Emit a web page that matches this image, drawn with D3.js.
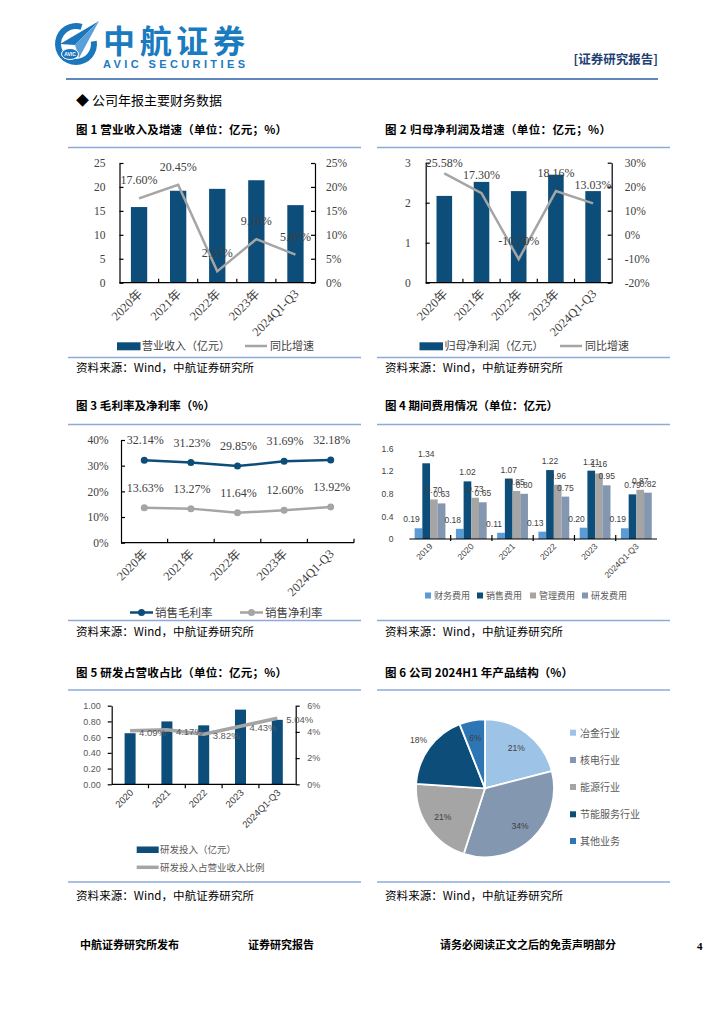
<!DOCTYPE html>
<html><head><meta charset="utf-8">
<script src="https://cdn.jsdelivr.net/npm/d3@7"></script>
<style>body{margin:0;background:#fff} svg{display:block}</style>
</head><body><svg id="c" width="724" height="1024"></svg>
<script>
// ---------------- DATA ----------------
const years5 = ["2020年", "2021年", "2022年", "2023年", "2024Q1-Q3"];
const revenue = [15.8, 19.2, 19.6, 21.4, 16.2];
const revenueGrowth = [17.60, 20.45, 2.37, 9.10, 5.87];
const netProfit = [2.17, 2.52, 2.29, 2.70, 2.29];
const profitGrowth = [25.58, 17.30, -10.20, 18.16, 13.03];
const grossMargin = [32.14, 31.23, 29.85, 31.69, 32.18];
const netMargin = [13.63, 13.27, 11.64, 12.60, 13.92];
const expenseYears = ["2019", "2020", "2021", "2022", "2023", "2024Q1-Q3"];
const expenseNames = ["财务费用", "销售费用", "管理费用", "研发费用"];
const financeExp = [0.19, 0.18, 0.11, 0.13, 0.20, 0.19];
const salesExp = [1.34, 1.02, 1.07, 1.22, 1.21, 0.79];
const adminExp = [0.70, 0.73, 0.85, 0.96, 1.16, 0.87];
const rdExp = [0.63, 0.65, 0.80, 0.75, 0.95, 0.82];
const rdYears = ["2020", "2021", "2022", "2023", "2024Q1-Q3"];
const rdInvest = [0.65, 0.80, 0.75, 0.95, 0.82];
const rdRatio = [4.09, 4.17, 3.82, 4.43, 5.04];
const productNames = ["冶金行业", "核电行业", "能源行业", "节能服务行业", "其他业务"];
const productShares = [21, 34, 21, 18, 6];
const revTicks = [0, 5, 10, 15, 20, 25];
const revPctTicks = [0, 5, 10, 15, 20, 25];
const profitTicks = [0, 1, 2, 3];
const profitPctTicks = [-20, -10, 0, 10, 20, 30];
const marginTicks = [0, 10, 20, 30, 40];
const expTicks = [0, 0.4, 0.8, 1.2, 1.6];
const rdTicks = [0, 0.2, 0.4, 0.6, 0.8, 1.0];
const rdPctTicks = [0, 2, 4, 6];

// ---------------- STYLE ----------------
const CJK = '"Noto Sans CJK SC", sans-serif';
const SERIF = '"Liberation Serif", "Noto Sans CJK SC", serif';
const SANS = '"Liberation Sans", "Noto Sans CJK SC", sans-serif';
const DARK = "#0d4d79", GRAY = "#a5a5a5", RULE = "#8eaadb", TXT = "#404040";
const expColors = ["#5b9bd5", "#0d4d79", "#a5a5a5", "#8497b0"];
const pieColors = ["#9dc3e6", "#8497b0", "#a5a5a5", "#0d4d79", "#2e75b6"];

const svg = d3.select("#c");
function addText(x, y, s, o = {}) {
  const t = svg.append("text").attr("x", x).attr("y", y).text(s)
    .attr("font-family", o.font || CJK).attr("font-size", o.size || 12)
    .attr("fill", o.fill || "#000").attr("text-anchor", o.anchor || "start");
  if (o.bold) t.attr("font-weight", "bold");
  if (o.len) t.attr("textLength", o.len).attr("lengthAdjust", "spacing");
  return t;
}
function rule(x1, x2, y) {
  svg.append("line").attr("x1", x1).attr("x2", x2).attr("y1", y).attr("y2", y)
    .attr("stroke", RULE).attr("stroke-width", 1.5);
}
function styleAxis(g, font, size, color, stroke) {
  g.select(".domain").attr("stroke", stroke || "#000").attr("stroke-width", 1.2);
  g.selectAll(".tick line").attr("stroke", stroke || "#000").attr("stroke-width", 1.2);
  g.selectAll(".tick text").attr("font-family", font).attr("font-size", size).attr("fill", color);
}

// ---------------- HEADER ----------------
const LB = "#1b76bc";
const logo = svg.append("g");
logo.append("path").attr("transform", "translate(76,44)")
  .attr("d", d3.arc().innerRadius(15).outerRadius(21).startAngle(Math.PI * 0.45).endAngle(Math.PI * 2.1)())
  .attr("fill", LB);
logo.append("path").attr("d", "M99,21 L60,44 L75,45 Z").attr("fill", LB);
logo.append("path").attr("d", "M99,21 L75,45 L79,58 Z").attr("fill", "#5aa0d8");
logo.append("ellipse").attr("cx", 70).attr("cy", 54).attr("rx", 8.5).attr("ry", 5.5).attr("fill", LB).attr("stroke", "#fff").attr("stroke-width", 1);
logo.append("text").attr("x", 70).attr("y", 56).attr("text-anchor", "middle").attr("font-size", 5)
  .attr("font-family", SANS).attr("font-weight", "bold").attr("fill", "#fff").text("AVIC");
addText(103, 53, "中航证券", { size: 32, bold: true, fill: "#1a7bc1", len: 142 });
addText(103, 68, "AVIC SECURITIES", { size: 11, bold: true, fill: "#1a7bc1", font: SANS, len: 142 });
addText(658, 64, "[证券研究报告]", { size: 12.5, bold: true, fill: "#1f3f73", anchor: "end" });
svg.append("line").attr("x1", 66).attr("x2", 658).attr("y1", 79).attr("y2", 79).attr("stroke", "#2e5fa6").attr("stroke-width", 1.5);
addText(76, 105, "◆ 公司年报主要财务数据", { size: 13 });

// ---------------- FRAMES ----------------
const titles = [
  [76, 134, "图 1  营业收入及增速（单位：亿元；%）", 211],
  [385, 134, "图 2  归母净利润及增速（单位：亿元；%）", 226],
  [76, 410, "图 3  毛利率及净利率（%）", 139],
  [385, 410, "图 4  期间费用情况（单位：亿元）", 173],
  [76, 677, "图 5  研发占营收占比（单位：亿元；%）", 211],
  [385, 677, "图 6  公司 2024H1 年产品结构（%）", 188]
];
titles.forEach(t => addText(t[0], t[1], t[2], { size: 11.5, bold: true, len: t[3] }));
[[68, 361, 147.5, 357.5, 372], [377, 670, 147.5, 357.5, 372],
 [68, 361, 424.5, 620.5, 636], [377, 670, 424.5, 620.5, 636],
 [68, 361, 690, 882, 900], [377, 670, 690, 882, 900]].forEach((f, i) => {
  rule(f[0], f[1], f[2]); rule(f[0], f[1], f[3]);
  addText(i % 2 ? 385 : 76, f[4], "资料来源：Wind，中航证券研究所", { size: 11.5, len: 178 });
});

// ---------------- COMBO BAR+LINE (charts 1,2) ----------------
function combo(o) {
  const x = d3.scaleBand().domain(o.cats).range([o.x0, o.x1]);
  const bw = x.bandwidth();
  const yl = d3.scaleLinear().domain(o.lDom).range([o.yB, o.yT]);
  const yr = d3.scaleLinear().domain(o.rDom).range([o.yB, o.yT]);
  const g = svg.append("g");
  g.selectAll("rect.bar").data(o.bars).join("rect").attr("class", "bar")
    .attr("x", (d, i) => x(o.cats[i]) + bw / 2 - o.barW / 2).attr("width", o.barW)
    .attr("y", d => yl(d)).attr("height", d => yl(o.lDom[0]) - yl(d)).attr("fill", DARK);
  const la = g.append("g").attr("transform", `translate(${o.x0},0)`)
    .call(d3.axisLeft(yl).tickValues(o.lTicks).tickSizeInner(-4).tickSizeOuter(0).tickPadding(o.lPad).tickFormat(d3.format("d")));
  styleAxis(la, SERIF, 11.5, TXT);
  const ra = g.append("g").attr("transform", `translate(${o.x1},0)`)
    .call(d3.axisRight(yr).tickValues(o.rTicks).tickSizeInner(-4).tickSizeOuter(0).tickPadding(o.rPad).tickFormat(d => d + "%"));
  styleAxis(ra, SERIF, 11.5, TXT);
  // bottom axis
  g.append("line").attr("x1", o.x0).attr("x2", o.x1).attr("y1", o.yB).attr("y2", o.yB).attr("stroke", "#000").attr("stroke-width", 1.2);
  g.selectAll("line.bt").data(o.cats.slice(1)).join("line").attr("class", "bt")
    .attr("x1", d => x(d)).attr("x2", d => x(d)).attr("y1", o.yB).attr("y2", o.yB - 4).attr("stroke", "#000").attr("stroke-width", 1.2);
  g.selectAll("text.xl").data(o.cats).join("text").attr("class", "xl")
    .attr("transform", d => `translate(${x(d) + bw / 2 + 4},${o.yB + 12}) rotate(-45)`)
    .attr("text-anchor", "end").attr("font-family", SERIF).attr("font-size", 12.5).attr("fill", TXT).text(d => d);
  // line
  const cx = i => x(o.cats[i]) + bw / 2;
  g.append("path").datum(o.line).attr("fill", "none").attr("stroke", GRAY).attr("stroke-width", 2.5)
    .attr("d", d3.line().x((d, i) => cx(i)).y(d => yr(d)));
  g.selectAll("text.dl").data(o.line).join("text").attr("class", "dl")
    .attr("x", (d, i) => cx(i)).attr("y", d => Math.max(yr(d) - 14, o.yT + 4))
    .attr("text-anchor", "middle").attr("font-family", SERIF).attr("font-size", 12).attr("fill", TXT)
    .text(d => d.toFixed(2) + "%");
  // legend
  g.append("rect").attr("x", o.legX).attr("y", 342.3).attr("width", 23.5).attr("height", 8).attr("fill", DARK);
  addText(o.legX + 25, 350, o.barName, { size: 11, fill: TXT });
  g.append("line").attr("x1", o.legLX).attr("x2", o.legLX + 22).attr("y1", 346).attr("y2", 346).attr("stroke", GRAY).attr("stroke-width", 2.5);
  addText(o.legLX + 25, 350, "同比增速", { size: 11, fill: TXT });
}
combo({ cats: years5, bars: revenue, line: revenueGrowth, x0: 119.5, x1: 315, yT: 163, yB: 282.7,
  lDom: [0, 25], rDom: [0, 25], lTicks: revTicks, rTicks: revPctTicks, lPad: 14, rPad: 11, barW: 16.3,
  legX: 117, legLX: 245, barName: "营业收入（亿元）" });
combo({ cats: years5, bars: netProfit, line: profitGrowth, x0: 425.7, x1: 611.7, yT: 162.7, yB: 282.7,
  lDom: [0, 3], rDom: [-20, 30], lTicks: profitTicks, rTicks: profitPctTicks, lPad: 15, rPad: 13, barW: 15.6,
  legX: 419.5, legLX: 560, barName: "归母净利润（亿元）" });

// ---------------- CHART 3 ----------------
(function () {
  const x = d3.scaleBand().domain(years5).range([121, 354]);
  const bw = x.bandwidth();
  const y = d3.scaleLinear().domain([0, 40]).range([542.7, 440]);
  const g = svg.append("g");
  const la = g.append("g").attr("transform", "translate(121,0)")
    .call(d3.axisLeft(y).tickValues(marginTicks).tickSizeInner(-4).tickSizeOuter(0).tickPadding(12.5).tickFormat(d => d + "%"));
  styleAxis(la, SERIF, 11.5, TXT);
  g.append("line").attr("x1", 121).attr("x2", 354).attr("y1", 542.7).attr("y2", 542.7).attr("stroke", "#000").attr("stroke-width", 1.2);
  g.selectAll("line.bt").data(years5.slice(1).concat(["end"])).join("line").attr("class", "bt")
    .attr("x1", d => d === "end" ? 354 : x(d)).attr("x2", d => d === "end" ? 354 : x(d))
    .attr("y1", 542.7).attr("y2", 538.7).attr("stroke", "#000").attr("stroke-width", 1.2);
  g.selectAll("text.xl").data(years5).join("text").attr("class", "xl")
    .attr("transform", d => `translate(${x(d) + bw / 2 + 4},${542.7 + 12}) rotate(-45)`)
    .attr("text-anchor", "end").attr("font-family", SERIF).attr("font-size", 12.5).attr("fill", TXT).text(d => d);
  const cx = i => x(years5[i]) + bw / 2;
  [[grossMargin, DARK], [netMargin, GRAY]].forEach(([vals, col]) => {
    g.append("path").datum(vals).attr("fill", "none").attr("stroke", col).attr("stroke-width", 2.5)
      .attr("d", d3.line().x((d, i) => cx(i)).y(d => y(d)));
    g.selectAll(null).data(vals).join("circle").attr("cx", (d, i) => cx(i)).attr("cy", d => y(d)).attr("r", 3.5).attr("fill", col);
    g.selectAll(null).data(vals).join("text").attr("x", (d, i) => cx(i) + 1).attr("y", d => y(d) - 16)
      .attr("text-anchor", "middle").attr("font-family", SERIF).attr("font-size", 12).attr("fill", TXT)
      .text(d => d.toFixed(2) + "%");
  });
  // legend
  [[130, DARK, "销售毛利率"], [240, GRAY, "销售净利率"]].forEach(([lx, col, name]) => {
    g.append("line").attr("x1", lx).attr("x2", lx + 23).attr("y1", 612.5).attr("y2", 612.5).attr("stroke", col).attr("stroke-width", 2.5);
    g.append("circle").attr("cx", lx + 11.5).attr("cy", 612.5).attr("r", 3.5).attr("fill", col);
    addText(lx + 25, 616.5, name, { size: 11.5, fill: TXT });
  });
})();

// ---------------- CHART 4 ----------------
(function () {
  const series = [financeExp, salesExp, adminExp, rdExp];
  const x0 = d3.scaleBand().domain(expenseYears).range([409.4, 657]);
  const x1 = d3.scaleBand().domain(expenseNames).range([0, 30.8]);
  const off = (x0.bandwidth() - 30.8) / 2;
  const y = d3.scaleLinear().domain([0, 1.6]).range([539, 448.6]);
  const g = svg.append("g");
  const la = g.append("g").attr("transform", "translate(409.4,0)")
    .call(d3.axisLeft(y).tickValues(expTicks).tickSize(0).tickPadding(16).tickFormat(d => d === 0 ? "0" : d.toFixed(1)));
  la.select(".domain").remove();
  la.selectAll(".tick text").attr("font-family", SANS).attr("font-size", 8.5).attr("fill", TXT);
  expenseNames.forEach((name, s) => {
    g.selectAll(null).data(series[s]).join("rect")
      .attr("x", (d, i) => x0(expenseYears[i]) + off + x1(name)).attr("width", x1.bandwidth())
      .attr("y", d => y(d)).attr("height", d => y(0) - y(d)).attr("fill", expColors[s]);
  });
  // labels: finance labels nudged left so they sit beside the taller neighbouring bar
  expenseNames.forEach((name, s) => {
    g.selectAll(null).data(series[s]).join("text")
      .attr("x", (d, i) => x0(expenseYears[i]) + off + x1(name) + x1.bandwidth() / 2 - (s === 0 ? 7 : 0))
      .attr("y", d => y(d) - 6)
      .attr("text-anchor", "middle").attr("font-family", SANS).attr("font-size", 8.5).attr("fill", TXT)
      .text(d => d.toFixed(2));
  });
  g.append("line").attr("x1", 409.4).attr("x2", 657).attr("y1", 539).attr("y2", 539).attr("stroke", "#000").attr("stroke-width", 1);
  g.selectAll("line.bt").data(expenseYears.slice(1)).join("line").attr("class", "bt")
    .attr("x1", d => x0(d)).attr("x2", d => x0(d)).attr("y1", 535).attr("y2", 541).attr("stroke", "#000").attr("stroke-width", 1.2);
  g.selectAll("text.xl").data(expenseYears).join("text").attr("class", "xl")
    .attr("transform", d => `translate(${x0(d) + x0.bandwidth() / 2 + 3},${539 + 8}) rotate(-45)`)
    .attr("text-anchor", "end").attr("font-family", SANS).attr("font-size", 8.5).attr("fill", TXT).text(d => d);
  [428, 480, 533, 585].forEach((lx, s) => {
    g.append("rect").attr("x", lx - 3).attr("y", 592.5).attr("width", 6).attr("height", 6).attr("fill", expColors[s]);
    addText(lx + 6, 599, expenseNames[s], { size: 9, fill: "#595959" });
  });
})();

// ---------------- CHART 5 ----------------
(function () {
  const x = d3.scaleBand().domain(rdYears).range([111.7, 295.7]);
  const bw = x.bandwidth();
  const yl = d3.scaleLinear().domain([0, 1]).range([784.3, 705.7]);
  const yr = d3.scaleLinear().domain([0, 6]).range([784.3, 705.7]);
  const g = svg.append("g");
  g.selectAll(null).data(rdInvest).join("rect")
    .attr("x", (d, i) => x(rdYears[i]) + bw / 2 - 5.5).attr("width", 11)
    .attr("y", d => yl(d)).attr("height", d => yl(0) - yl(d)).attr("fill", DARK);
  const la = g.append("g").attr("transform", "translate(111.7,0)")
    .call(d3.axisLeft(yl).tickValues(rdTicks).tickSizeInner(4).tickSizeOuter(0).tickPadding(7).tickFormat(d => d.toFixed(2)));
  styleAxis(la, SANS, 9, "#595959");
  const ra = g.append("g").attr("transform", "translate(295.7,0)")
    .call(d3.axisRight(yr).tickValues(rdPctTicks).tickSizeInner(4).tickSizeOuter(0).tickPadding(7.5).tickFormat(d => d + "%"));
  styleAxis(ra, SANS, 9, "#595959");
  g.append("line").attr("x1", 111.7).attr("x2", 295.7).attr("y1", 784.3).attr("y2", 784.3).attr("stroke", "#000").attr("stroke-width", 1.2);
  g.selectAll("line.bt").data(rdYears.slice(1)).join("line").attr("class", "bt")
    .attr("x1", d => x(d)).attr("x2", d => x(d)).attr("y1", 784.3).attr("y2", 788.3).attr("stroke", "#000").attr("stroke-width", 1.2);
  g.selectAll("text.xl").data(rdYears).join("text").attr("class", "xl")
    .attr("transform", d => `translate(${x(d) + bw / 2 + 4},${784.3 + 9}) rotate(-45)`)
    .attr("text-anchor", "end").attr("font-family", SANS).attr("font-size", 9.5).attr("fill", TXT).text(d => d);
  const cx = i => x(rdYears[i]) + bw / 2;
  g.append("path").datum(rdRatio).attr("fill", "none").attr("stroke", GRAY).attr("stroke-width", 3.5)
    .attr("d", d3.line().x((d, i) => cx(i)).y(d => yr(d)));
  g.selectAll(null).data(rdRatio).join("text").attr("x", (d, i) => cx(i) + 9).attr("y", d => yr(d) + 5)
    .attr("font-family", SANS).attr("font-size", 9.5).attr("fill", "#595959").text(d => d.toFixed(2) + "%");
  g.append("rect").attr("x", 136.7).attr("y", 846.5).attr("width", 22).attr("height", 6.5).attr("fill", DARK);
  addText(160, 853, "研发投入（亿元）", { size: 9.5, fill: "#595959" });
  g.append("line").attr("x1", 136.7).attr("x2", 158.7).attr("y1", 867.3).attr("y2", 867.3).attr("stroke", GRAY).attr("stroke-width", 3.5);
  addText(160, 871, "研发投入占营业收入比例", { size: 9.5, fill: "#595959" });
})();

// ---------------- CHART 6 ----------------
(function () {
  const cx = 485, cy = 788.3, r = 69;
  const pie = d3.pie().sort(null).value(d => d.v);
  const arcs = pie(productNames.map((n, i) => ({ n, v: productShares[i], c: pieColors[i] })));
  const arc = d3.arc().innerRadius(0).outerRadius(r);
  const g = svg.append("g").attr("transform", `translate(${cx},${cy})`);
  g.selectAll("path").data(arcs).join("path").attr("d", arc).attr("fill", d => d.data.c)
    .attr("stroke", "#fff").attr("stroke-width", 1.8);
  g.selectAll("text").data(arcs).join("text")
    .attr("transform", d => {
      const a = (d.startAngle + d.endAngle) / 2;
      const rr = d.data.n === "节能服务行业" ? r * 1.19 : r * 0.74;
      return `translate(${Math.sin(a) * rr},${-Math.cos(a) * rr})`;
    })
    .attr("dy", "0.35em").attr("text-anchor", "middle").attr("font-family", SANS).attr("font-size", 8.5)
    .attr("fill", TXT).text(d => d.data.v + "%");
  [732.7, 760, 787, 814.3, 841].forEach((ly, i) => {
    svg.append("rect").attr("x", 570).attr("y", ly - 3).attr("width", 6).attr("height", 6).attr("fill", pieColors[i]);
    addText(580, ly + 4, productNames[i], { size: 10, fill: "#595959" });
  });
})();

// ---------------- FOOTER ----------------
addText(80, 949, "中航证券研究所发布", { size: 11, bold: true });
addText(248, 949, "证券研究报告", { size: 11, bold: true });
addText(440, 949, "请务必阅读正文之后的免责声明部分", { size: 11, bold: true });
addText(697, 950, "4", { size: 11, bold: true, font: SERIF });
</script></body></html>
